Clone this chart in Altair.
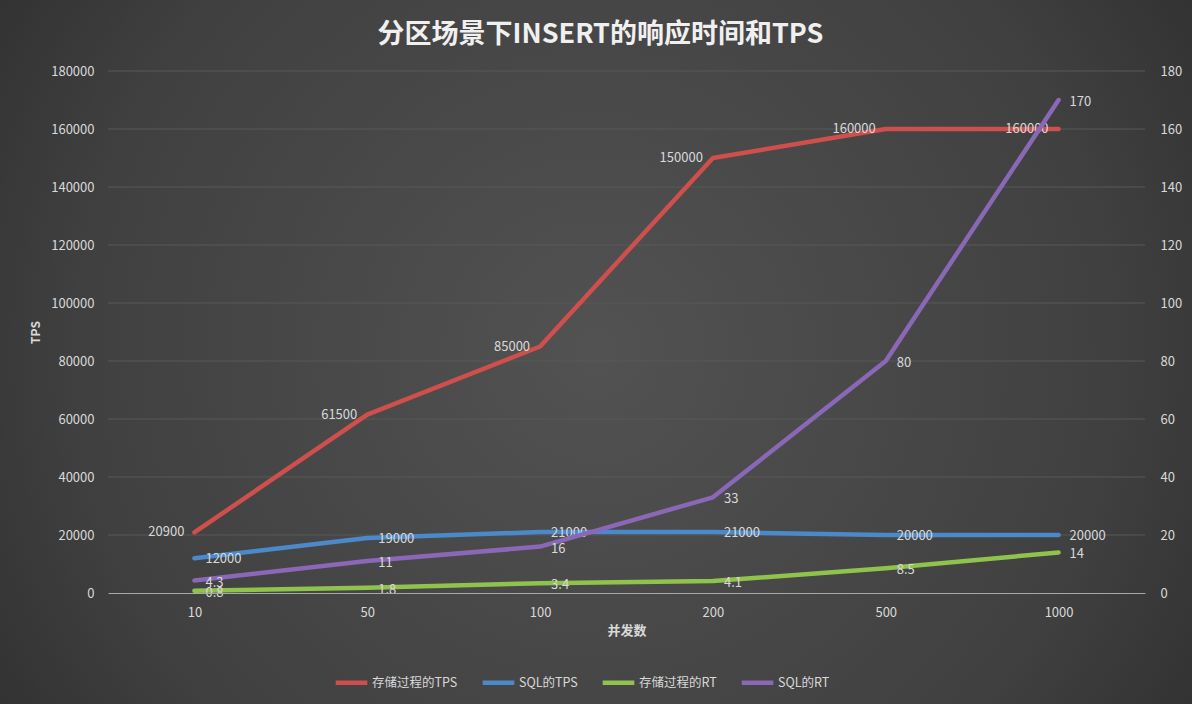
import altair as alt
import pandas as pd

concurrency = ["10", "50", "100", "200", "500", "1000"]
sp_tps = [20900, 61500, 85000, 150000, 160000, 160000]
sql_tps = [12000, 19000, 21000, 21000, 20000, 20000]
sp_rt = [0.8, 1.8, 3.4, 4.1, 8.5, 14]
sql_rt = [4.3, 11, 16, 33, 80, 170]
series_names = ["存储过程的TPS", "SQL的TPS", "存储过程的RT", "SQL的RT"]
series_axis = ["TPS", "TPS", "RT", "RT"]
series_colors = ["#cf4f4c", "#4b89ca", "#90c34c", "#8a67b7"]
tps_ticks = [0, 20000, 40000, 60000, 80000, 100000, 120000, 140000, 160000, 180000]
rt_ticks = [0, 20, 40, 60, 80, 100, 120, 140, 160, 180]

rows = []
for name, ax, vals in zip(series_names, series_axis, [sp_tps, sql_tps, sp_rt, sql_rt]):
    for c, v in zip(concurrency, vals):
        rows.append({"x": c, "series": name, "axis": ax, "value": v, "label": f"{v:g}"})
df = pd.DataFrame(rows)

W, H = 1037, 522
FONT = "Noto Sans CJK SC"
LAB = "#d9d9d9"
FS = 13

legend = alt.Legend(
    title=None, orient="none", direction="horizontal",
    legendX=225, legendY=593,
    symbolType="stroke", symbolStrokeWidth=4.5, symbolSize=1000,
    labelColor=LAB, labelFont=FONT, labelFontSize=12.5, labelOffset=2,
    columnPadding=15,
)
color = alt.Color("series:N", scale=alt.Scale(domain=series_names, range=series_colors), legend=legend)

xaxis = alt.Axis(
    labelAngle=0, labelColor=LAB, labelFont=FONT, labelFontSize=FS,
    labelPadding=13, ticks=False, grid=False,
    domain=True, domainColor="#a8a8a8", domainWidth=1.2,
    titleColor=LAB, titleFont=FONT, titleFontSize=13, titleFontWeight="bold",
    titlePadding=5, zindex=1,
)
xenc = alt.X("x:N", sort=concurrency, title="并发数", axis=xaxis)

tps_scale = alt.Scale(domain=[0, 180000], nice=False)
rt_scale = alt.Scale(domain=[0, 180], nice=False)

tps_axis = alt.Axis(
    orient="left", values=tps_ticks, format="d", labelColor=LAB, labelFont=FONT,
    labelFontSize=FS, labelPadding=14, ticks=False, grid=False, domain=False,
    titleColor=LAB, titleFont=FONT, titleFontSize=12, titleFontWeight="bold",
    titlePadding=8, zindex=1,
)
rt_axis = alt.Axis(
    orient="right", values=rt_ticks, format="d", labelColor=LAB, labelFont=FONT,
    labelFontSize=FS, labelPadding=15, ticks=False, grid=False, domain=False,
    zindex=1,
)
tps_y = alt.Y("value:Q", scale=tps_scale, title="TPS", axis=tps_axis)
rt_y = alt.Y("value:Q", scale=rt_scale, title=None, axis=rt_axis)

bg = alt.Chart(pd.DataFrame({"a": [0]})).mark_rect(
    color={
        "gradient": "radial",
        "x1": 0.5, "y1": 0.5, "r1": 0,
        "x2": 0.5, "y2": 0.5, "r2": 0.72,
        "stops": [
            {"offset": 0, "color": "#525252"},
            {"offset": 0.6, "color": "#404040"},
            {"offset": 1, "color": "#262626"},
        ],
    }
).encode(x=alt.value(-108), x2=alt.value(W + 47), y=alt.value(-71), y2=alt.value(H + 111))

grid = alt.Chart(pd.DataFrame({"t": tps_ticks[1:]})).mark_rule(
    color="#595959", strokeWidth=1
).encode(y=alt.Y("t:Q", scale=tps_scale, title="TPS", axis=tps_axis))

base = alt.Chart(df)
tps_data = base.transform_filter(alt.datum.axis == "TPS")
rt_data = base.transform_filter(alt.datum.axis == "RT")

tps_lines = tps_data.mark_line(strokeWidth=4.5, strokeCap="round", strokeJoin="round").encode(
    x=xenc, y=tps_y, color=color, detail="series:N"
)
red_text = tps_data.transform_filter(alt.datum.series == "存储过程的TPS").mark_text(
    align="right", baseline="middle", dx=-10, color=LAB, font=FONT, fontSize=FS
).encode(x=xenc, y=tps_y, text="label:N")
blue_text = tps_data.transform_filter(alt.datum.series == "SQL的TPS").mark_text(
    align="left", baseline="middle", dx=11, dy=1, color=LAB, font=FONT, fontSize=FS
).encode(x=xenc, y=tps_y, text="label:N")

rt_lines = rt_data.mark_line(strokeWidth=4.5, strokeCap="round", strokeJoin="round").encode(
    x=xenc, y=rt_y, color=color, detail="series:N"
)
rt_text = rt_data.mark_text(
    align="left", baseline="middle", dx=11, dy=2, color=LAB, font=FONT, fontSize=FS
).encode(x=xenc, y=rt_y, text="label:N")

tps_layer = alt.layer(grid, tps_lines, red_text, blue_text)
rt_layer = alt.layer(rt_lines, rt_text)

chart = alt.layer(bg, tps_layer, rt_layer).resolve_scale(y="independent").properties(
    width=W, height=H,
    title=alt.Title(
        "分区场景下INSERT的响应时间和TPS", font=FONT, fontSize=27, fontWeight="bold",
        color="#f0f0f0", anchor="middle", frame="group", dx=-26, dy=73, offset=24,
    ),
    autosize=alt.AutoSizeParams(type="none"),
    padding={"left": 108, "top": 71, "right": 47, "bottom": 111},
    background="#2e2e2e",
).configure_view(stroke=None)

chart.save("out.html", embed_options={"renderer": "svg", "actions": False})
